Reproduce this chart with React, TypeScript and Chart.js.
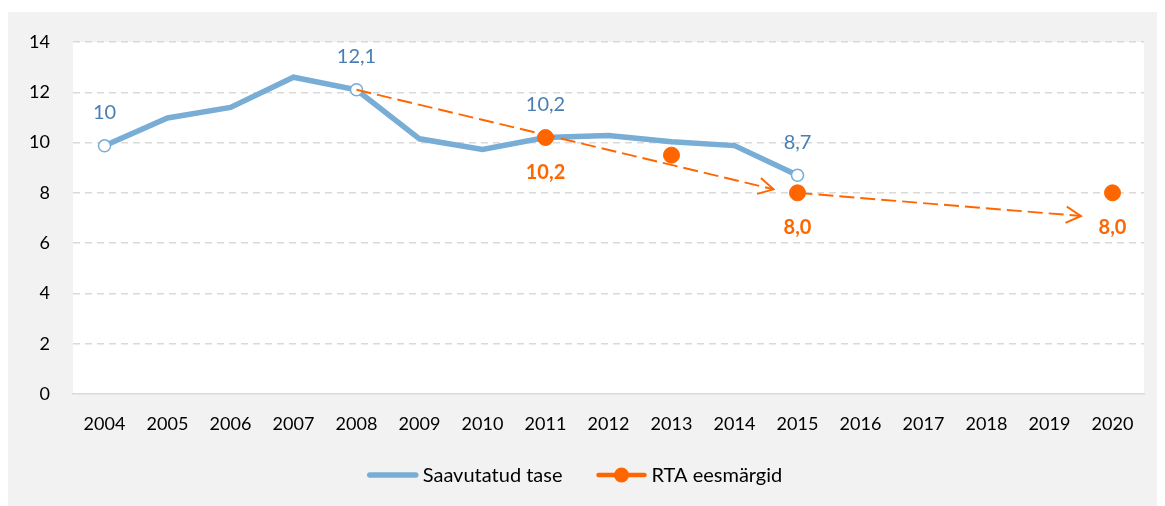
import React, { useEffect, useRef } from 'react';
import { Chart, registerables } from 'chart.js';

Chart.register(...registerables);

const years = ['2004', '2005', '2006', '2007', '2008', '2009', '2010', '2011', '2012', '2013', '2014', '2015', '2016', '2017', '2018', '2019', '2020'];
const achieved = [9.87, 10.98, 11.4, 12.6, 12.1, 10.15, 9.73, 10.2, 10.28, 10.03, 9.88, 8.7, null, null, null, null, null];
const achievedLabels = ['10', null, null, null, '12,1', null, null, '10,2', null, null, null, '8,7', null, null, null, null, null];
const achievedMarkers = [true, false, false, false, true, false, false, false, false, false, false, true, false, false, false, false, false];
const targets = [null, null, null, null, null, null, null, 10.2, null, 9.5, null, 8.0, null, null, null, null, 8.0];
const targetLabels = [null, null, null, null, null, null, null, '10,2', null, null, null, '8,0', null, null, null, null, '8,0'];
// dashed trend arrows in data coordinates: [category index, value]
const arrowStarts = [[4, 12.1], [11, 8.0]];
const arrowEnds = [[10.62, 8.14], [15.5, 7.08]];
const yTicks = [0, 2, 4, 6, 8, 10, 12, 14];
const legendNames = ['Saavutatud tase', 'RTA eesmärgid'];

const BLUE = '#78ADD6';
const BLUE_TEXT = '#4A7EB2';
const ORANGE = '#FF6600';
const FONT = 'Lato';

const App = () => {
  const ref = useRef<HTMLCanvasElement | null>(null);

  useEffect(() => {
    if (!ref.current) return;

    const bgPlugin = {
      id: 'plotBg',
      beforeDraw(chart: any) {
        const { ctx, chartArea } = chart;
        ctx.save();
        ctx.fillStyle = '#ffffff';
        ctx.fillRect(chartArea.left, chartArea.top, chartArea.right - chartArea.left, chartArea.bottom - chartArea.top);
        ctx.restore();
      },
    };

    const arrowPlugin = {
      id: 'arrows',
      afterDatasetsDraw(chart: any) {
        const { ctx, scales } = chart;
        const xs = scales.x;
        const ys = scales.y;
        const px = (i: number) => {
          const a = Math.floor(i);
          const b = Math.min(a + 1, years.length - 1);
          const pa = xs.getPixelForValue(a);
          const pb = xs.getPixelForValue(b);
          return pa + (pb - pa) * (i - a);
        };
        ctx.save();
        ctx.strokeStyle = ORANGE;
        ctx.lineWidth = 1.9;
        arrowStarts.forEach((s, k) => {
          const e = arrowEnds[k];
          const x1 = px(s[0]);
          const y1 = ys.getPixelForValue(s[1]);
          const x2 = px(e[0]);
          const y2 = ys.getPixelForValue(e[1]);
          ctx.setLineDash([15, 6]);
          ctx.beginPath();
          ctx.moveTo(x1, y1);
          ctx.lineTo(x2, y2);
          ctx.stroke();
          ctx.setLineDash([]);
          const ang = Math.atan2(y2 - y1, x2 - x1);
          const len = 17;
          const spread = 0.5;
          ctx.beginPath();
          ctx.moveTo(x2 - len * Math.cos(ang - spread), y2 - len * Math.sin(ang - spread));
          ctx.lineTo(x2, y2);
          ctx.lineTo(x2 - len * Math.cos(ang + spread), y2 - len * Math.sin(ang + spread));
          ctx.stroke();
        });
        ctx.restore();
      },
    };

    const labelPlugin = {
      id: 'dataLabels',
      afterDatasetsDraw(chart: any) {
        const { ctx } = chart;
        ctx.save();
        ctx.textAlign = 'center';
        ctx.textBaseline = 'middle';
        const m0 = chart.getDatasetMeta(0);
        ctx.font = `20px ${FONT}`;
        ctx.fillStyle = BLUE_TEXT;
        achievedLabels.forEach((t, i) => {
          if (!t) return;
          const el = m0.data[i];
          ctx.fillText(t, el.x, el.y - 33);
        });
        const m1 = chart.getDatasetMeta(1);
        ctx.font = `bold 20px ${FONT}`;
        ctx.fillStyle = ORANGE;
        targetLabels.forEach((t, i) => {
          if (!t) return;
          const el = m1.data[i];
          ctx.fillText(t, el.x, el.y + 35);
        });
        ctx.restore();
      },
    };

    const legendPlugin = {
      id: 'customLegend',
      afterDraw(chart: any) {
        const { ctx, width, height } = chart;
        ctx.save();
        ctx.font = `20px ${FONT}`;
        ctx.textBaseline = 'middle';
        const sample = 52;
        const gap = 4;
        const itemGap = 33;
        const w0 = ctx.measureText(legendNames[0]).width;
        const w1 = ctx.measureText(legendNames[1]).width;
        const total = sample + gap + w0 + itemGap + sample + gap + w1;
        let x = width / 2 - 8 - total / 2;
        const y = height - 31;
        ctx.lineCap = 'round';
        ctx.strokeStyle = BLUE;
        ctx.lineWidth = 5.5;
        ctx.beginPath();
        ctx.moveTo(x + 3, y);
        ctx.lineTo(x + sample - 3, y);
        ctx.stroke();
        x += sample + gap;
        ctx.fillStyle = '#000';
        ctx.fillText(legendNames[0], x, y + 1);
        x += w0 + itemGap;
        ctx.strokeStyle = ORANGE;
        ctx.lineWidth = 4.5;
        ctx.beginPath();
        ctx.moveTo(x + 3, y);
        ctx.lineTo(x + sample - 3, y);
        ctx.stroke();
        ctx.fillStyle = ORANGE;
        ctx.beginPath();
        ctx.arc(x + sample / 2, y, 7.5, 0, Math.PI * 2);
        ctx.fill();
        x += sample + gap;
        ctx.fillStyle = '#000';
        ctx.fillText(legendNames[1], x, y + 1);
        ctx.restore();
      },
    };

    const chart = new Chart(ref.current, {
      type: 'line',
      data: {
        labels: years,
        datasets: [
          {
            label: legendNames[0],
            data: achieved,
            borderColor: BLUE,
            borderWidth: 5.5,
            backgroundColor: '#ffffff',
            pointBackgroundColor: '#ffffff',
            pointBorderColor: BLUE,
            pointBorderWidth: 1.5,
            pointRadius: achievedMarkers.map((m) => (m ? 6 : 0)),
            tension: 0,
            spanGaps: false,
            order: 2,
          },
          {
            label: legendNames[1],
            data: targets,
            showLine: false,
            borderColor: ORANGE,
            backgroundColor: ORANGE,
            pointBackgroundColor: ORANGE,
            pointBorderColor: ORANGE,
            pointBorderWidth: 1,
            pointRadius: 8,
            order: 1,
          },
        ],
      },
      options: {
        animation: false,
        responsive: true,
        maintainAspectRatio: false,
        layout: { padding: { left: 0, right: 13, top: 30, bottom: 52 } },
        plugins: {
          legend: { display: false },
          tooltip: { enabled: false },
        },
        scales: {
          x: {
            offset: true,
            grid: { display: false, drawTicks: false },
            border: { display: true, color: '#D9D9D9', width: 1.5 },
            ticks: {
              color: '#000',
              font: { family: FONT, size: 18 },
              padding: 19,
              maxRotation: 0,
              autoSkip: false,
            },
            afterFit: (s: any) => {
              s.height = 60;
            },
          },
          y: {
            min: 0,
            max: 14,
            afterBuildTicks: (s: any) => {
              s.ticks = yTicks.map((v) => ({ value: v }));
            },
            grid: {
              drawTicks: false,
              color: (c: any) => (c.tick && c.tick.value === 0 ? 'rgba(0,0,0,0)' : '#D9D9D9'),
              lineWidth: 1.5,
            },
            border: { display: false, dash: [7, 5] },
            ticks: {
              color: '#000',
              font: { family: FONT, size: 18, lineHeight: 0.5 },
              padding: 23,
            },
            afterFit: (s: any) => {
              s.width = 65;
            },
          },
        },
      },
      plugins: [bgPlugin, arrowPlugin, labelPlugin, legendPlugin],
    });

    return () => chart.destroy();
  }, []);

  return (
    <div style={{ paddingTop: 4 }}>
      <div style={{ height: 494, background: '#F2F2F2', position: 'relative' }}>
        <canvas ref={ref} />
      </div>
    </div>
  );
};

export default App;
